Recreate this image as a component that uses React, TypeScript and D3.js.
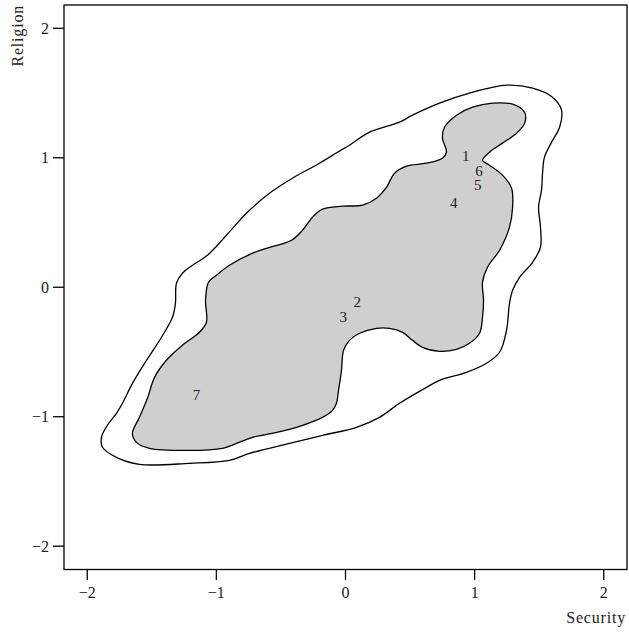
import React from "react";
import * as d3 from "d3";

const xTicks = [-2, -1, 0, 1, 2];
const yTicks = [-2, -1, 0, 1, 2];
const xLabel = "Security";
const yLabel = "Religion";

// Outer density contour (Security, Religion)
const outerX = [-0.062, 0.031, 0.186, 0.418, 0.519, 0.728, 0.96, 1.247, 1.449, 1.603, 1.673, 1.658, 1.596, 1.541, 1.526, 1.518, 1.495, 1.51, 1.51, 1.449, 1.348, 1.294, 1.27, 1.247, 1.193, 1.092, 0.937, 0.728, 0.627, 0.418, 0.263, 0.085, -0.178, -0.434, -0.744, -0.899, -1.208, -1.596, -1.774, -1.882, -1.89, -1.844, -1.774, -1.727, -1.65, -1.541, -1.425, -1.34, -1.317, -1.309, -1.263, -1.185, -1.069, -0.922, -0.767, -0.589, -0.411, -0.201];
const outerY = [1.043, 1.097, 1.198, 1.275, 1.329, 1.422, 1.499, 1.561, 1.538, 1.468, 1.368, 1.236, 1.121, 1.005, 0.881, 0.75, 0.618, 0.464, 0.309, 0.193, 0.077, -0.023, -0.124, -0.332, -0.502, -0.587, -0.657, -0.719, -0.773, -0.896, -1.005, -1.082, -1.144, -1.206, -1.283, -1.337, -1.36, -1.368, -1.314, -1.236, -1.159, -1.066, -0.974, -0.896, -0.742, -0.564, -0.386, -0.232, -0.124, 0.031, 0.108, 0.17, 0.247, 0.402, 0.572, 0.726, 0.842, 0.958];

// Inner (shaded) density contour
const innerX = [-0.023, 0.132, 0.24, 0.318, 0.38, 0.473, 0.627, 0.751, 0.782, 0.751, 0.767, 0.86, 0.984, 1.139, 1.294, 1.387, 1.387, 1.325, 1.216, 1.115, 1.061, 1.115, 1.216, 1.286, 1.294, 1.27, 1.193, 1.1, 1.061, 1.069, 1.061, 1.038, 0.96, 0.86, 0.728, 0.596, 0.519, 0.442, 0.341, 0.24, 0.108, 0.031, -0.015, -0.031, -0.054, -0.07, -0.101, -0.178, -0.333, -0.534, -0.72, -0.844, -0.953, -1.208, -1.518, -1.619, -1.65, -1.596, -1.534, -1.479, -1.387, -1.263, -1.131, -1.077, -1.084, -1.061, -0.999, -0.899, -0.72, -0.612, -0.418, -0.333, -0.256, -0.178];
const innerY = [0.626, 0.634, 0.688, 0.773, 0.881, 0.935, 0.958, 0.997, 1.043, 1.151, 1.236, 1.329, 1.391, 1.422, 1.414, 1.352, 1.267, 1.19, 1.113, 1.043, 0.981, 0.943, 0.866, 0.765, 0.618, 0.464, 0.286, 0.155, 0.039, -0.1, -0.232, -0.355, -0.433, -0.479, -0.495, -0.464, -0.41, -0.348, -0.317, -0.317, -0.355, -0.41, -0.487, -0.641, -0.796, -0.896, -0.951, -1.005, -1.066, -1.121, -1.159, -1.206, -1.244, -1.26, -1.244, -1.198, -1.128, -1.005, -0.858, -0.696, -0.564, -0.448, -0.348, -0.27, -0.1, 0.039, 0.093, 0.17, 0.263, 0.301, 0.363, 0.44, 0.541, 0.603];

// Labelled observations
const pointLabels = ["1", "6", "5", "4", "2", "3", "7"];
const pointX = [0.931, 1.034, 1.024, 0.838, 0.091, -0.017, -1.153];
const pointY = [1.013, 0.9, 0.79, 0.648, -0.112, -0.227, -0.832];

const W = 629;
const H = 633;
const left = 64, right = 627, top = 5, bottom = 569.5;
const font = "'Liberation Serif', 'Times New Roman', serif";

export default function App() {
  const x = d3.scaleLinear().domain([-2.18, 2.18]).range([left, right]);
  const y = d3.scaleLinear().domain([-2.18, 2.18]).range([bottom, top]);
  const line = d3
    .line<[number, number]>()
    .x((d) => x(d[0]))
    .y((d) => y(d[1]))
    .curve(d3.curveCatmullRomClosed.alpha(0.5));
  const outer = outerX.map((v, i) => [v, outerY[i]] as [number, number]);
  const inner = innerX.map((v, i) => [v, innerY[i]] as [number, number]);
  const fmt = (t: number) => (t < 0 ? "\u2212" + Math.abs(t) : String(t));

  return (
    <svg
      width={W}
      height={H}
      style={{ position: "absolute", left: 0, top: 0 }}
      fontFamily={font}
    >
      <rect x={0} y={0} width={W} height={H} fill="white" />
      <path d={line(outer) || ""} fill="white" stroke="black" strokeWidth={1.3} />
      <path d={line(inner) || ""} fill="#cfcfcf" stroke="black" strokeWidth={1.3} />
      {pointLabels.map((lab, i) => (
        <text
          key={lab}
          x={x(pointX[i])}
          y={y(pointY[i]) + 5}
          textAnchor="middle"
          fontSize={15}
          fill="#222"
        >
          {lab}
        </text>
      ))}
      <rect
        x={left}
        y={top}
        width={right - left}
        height={bottom - top}
        fill="none"
        stroke="black"
        strokeWidth={1.3}
      />
      {xTicks.map((t) => (
        <g key={"x" + t}>
          <line x1={x(t)} x2={x(t)} y1={bottom} y2={bottom + 10.5} stroke="black" strokeWidth={1.3} />
          <text x={x(t)} y={597.5} textAnchor="middle" fontSize={16} fill="#222">
            {fmt(t)}
          </text>
        </g>
      ))}
      {yTicks.map((t) => (
        <g key={"y" + t}>
          <line x1={left - 11} x2={left} y1={y(t)} y2={y(t)} stroke="black" strokeWidth={1.3} />
          <text x={49} y={y(t) + 5.5} textAnchor="end" fontSize={16} fill="#222">
            {fmt(t)}
          </text>
        </g>
      ))}
      <text
        x={626}
        y={622.5}
        textAnchor="end"
        fontSize={16}
        letterSpacing={0.8}
        fill="#222"
      >
        {xLabel}
      </text>
      <text
        transform={`translate(23,5) rotate(-90)`}
        textAnchor="end"
        fontSize={16}
        letterSpacing={0.8}
        fill="#222"
      >
        {yLabel}
      </text>
    </svg>
  );
}
